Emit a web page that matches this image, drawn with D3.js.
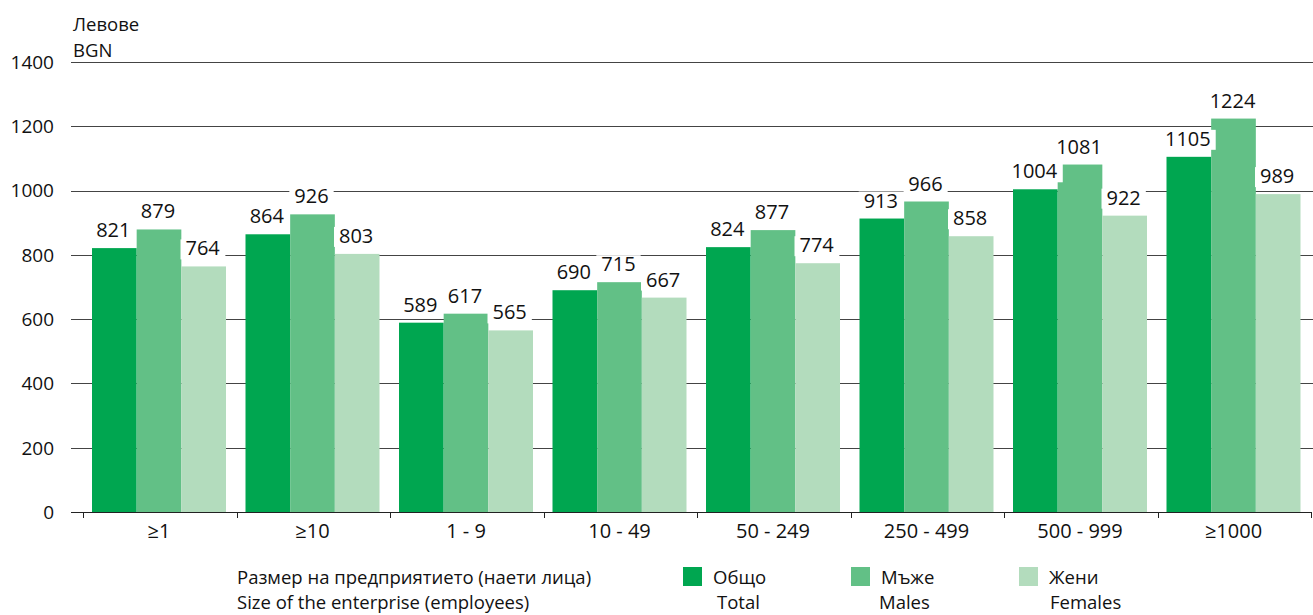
<!DOCTYPE html>
<html lang="bg">
<head>
<meta charset="UTF-8">
<title>Average wage by enterprise size</title>
<script src="https://d3js.org/d3.v7.min.js"></script>
<style>
  body { margin: 0; background: #fff; }
  svg text { font-family: "Open Sans", "Noto Sans", sans-serif; fill: #111; }
</style>
</head>
<body>
<script>
// data
var categories = ["≥1", "≥10", "1 - 9", "10 - 49", "50 - 249", "250 - 499", "500 - 999", "≥1000"];
var seriesNames = ["Общо", "Мъже", "Жени"];
var seriesNamesEn = ["Total", "Males", "Females"];
var total   = [821, 864, 589, 690, 824, 913, 1004, 1105];
var males   = [879, 926, 617, 715, 877, 966, 1081, 1224];
var females = [764, 803, 565, 667, 774, 858, 922, 989];
var yTicks = [0, 200, 400, 600, 800, 1000, 1200, 1400];

var colors = ["#00a650", "#62c086", "#b3dcbd"];

var w = 1313, h = 615;

var svg = d3.select("body").append("svg")
    .attr("width", w)
    .attr("height", h);

var y = d3.scaleLinear().domain([0, 1400]).range([512, 62]);

var x0 = d3.scaleBand().domain(categories).range([83, 1311]);
var x1 = d3.scaleBand().domain(d3.range(3)).range([9, 9 + 134]);

// gridlines
svg.selectAll("line.grid")
    .data(yTicks.filter(function(d){ return d > 0; }))
    .enter().append("line")
    .attr("x1", 71).attr("x2", w)
    .attr("y1", function(d){ return Math.round(y(d)) + 0.5; })
    .attr("y2", function(d){ return Math.round(y(d)) + 0.5; })
    .attr("stroke", "#444").attr("stroke-width", 1);

// y tick labels
svg.selectAll("text.ytick")
    .data(yTicks)
    .enter().append("text")
    .attr("x", 54)
    .attr("y", function(d){ return y(d); })
    .attr("dy", "0.36em")
    .attr("text-anchor", "end")
    .style("font-size", "19px")
    .text(function(d){ return d; });

// unit label
svg.append("text").attr("x", 73).attr("y", 31).style("font-size", "18.5px").text("Левове");
svg.append("text").attr("x", 73).attr("y", 57).style("font-size", "18.5px").text("BGN");

var rows = categories.map(function(c, i){
    return { cat: c, vals: [total[i], males[i], females[i]] };
});

var groups = svg.selectAll("g.grp")
    .data(rows)
    .enter().append("g")
    .attr("transform", function(d){ return "translate(" + x0(d.cat) + ",0)"; });

groups.selectAll("rect")
    .data(function(d){ return d.vals; })
    .enter().append("rect")
    .attr("x", function(d, i){ return x1(i); })
    .attr("width", x1.bandwidth())
    .attr("y", function(d){ return y(d); })
    .attr("height", function(d){ return y(0) - y(d); })
    .attr("fill", function(d, i){ return colors[i]; });

// value labels with white backing box
groups.each(function(d){
    var g = d3.select(this);
    d.vals.forEach(function(v, i){
        var cx = x1(i) + x1.bandwidth() / 2 - 1;
        var lab = g.append("g");
        var bg = lab.append("rect").attr("fill", "#fff");
        var t = lab.append("text")
            .attr("x", cx)
            .attr("y", y(v) - 11)
            .attr("text-anchor", "middle")
            .style("font-size", "20px")
            .text(v);
        var bb = t.node().getBBox();
        bg.attr("x", bb.x - 5).attr("y", bb.y + 5)
          .attr("width", bb.width + 10).attr("height", bb.height - 7);
    });
});

// x axis
svg.append("line")
    .attr("x1", 71).attr("x2", 1311)
    .attr("y1", 512.5).attr("y2", 512.5)
    .attr("stroke", "#222").attr("stroke-width", 1.2);

var tickPos = categories.map(function(c){ return x0(c); }).concat([x0.range()[1]]);
svg.selectAll("line.xtick")
    .data(tickPos)
    .enter().append("line")
    .attr("x1", function(d){ return Math.round(d) + 0.5; })
    .attr("x2", function(d){ return Math.round(d) + 0.5; })
    .attr("y1", 512).attr("y2", 518)
    .attr("stroke", "#222");

svg.selectAll("text.xlab")
    .data(categories)
    .enter().append("text")
    .attr("x", function(d){ return x0(d) + 9 + 67; })
    .attr("y", 538)
    .attr("text-anchor", "middle")
    .style("font-size", "20px")
    .text(function(d){ return d; });

// axis title
svg.append("text").attr("x", 237).attr("y", 584).style("font-size", "18.5px")
    .text("Размер на предприятието (наети лица)");
svg.append("text").attr("x", 237).attr("y", 609).style("font-size", "18.5px")
    .text("Size of the enterprise (employees)");

// legend
var legX = [683, 851, 1019];
var enOff = [34, 28, 31];
var leg = svg.selectAll("g.leg")
    .data(seriesNames)
    .enter().append("g")
    .attr("transform", function(d, i){ return "translate(" + legX[i] + ",0)"; });

leg.append("rect")
    .attr("x", 0).attr("y", 567)
    .attr("width", 19).attr("height", 19)
    .attr("fill", function(d, i){ return colors[i]; });

leg.append("text")
    .attr("x", 30).attr("y", 584)
    .style("font-size", "18.5px")
    .text(function(d){ return d; });

leg.append("text")
    .attr("x", function(d, i){ return enOff[i]; })
    .attr("y", 609)
    .style("font-size", "18.5px")
    .text(function(d, i){ return seriesNamesEn[i]; });
</script>
</body>
</html>
